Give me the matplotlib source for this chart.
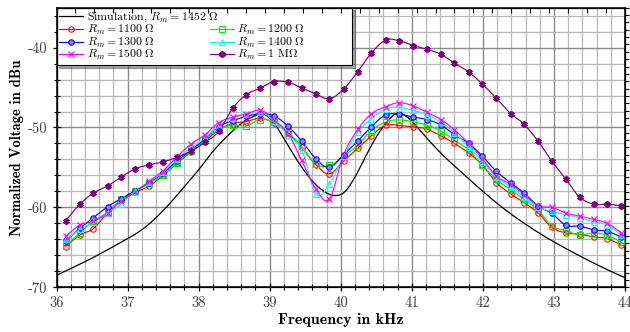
import numpy as np
import matplotlib
matplotlib.use("Agg")
import matplotlib.pyplot as plt
from matplotlib.lines import Line2D
from matplotlib.ticker import MultipleLocator, FixedLocator, NullFormatter

plt.rcParams.update({
    "font.family": "cmr10",
    "mathtext.fontset": "cm",
    "axes.unicode_minus": False,
})

# ---------------- data ----------------
freq = [36.13, 36.33, 36.52, 36.72, 36.91, 37.11, 37.30, 37.50, 37.69, 37.89,
        38.09, 38.28, 38.48, 38.67, 38.87, 39.06, 39.26, 39.45, 39.65, 39.84,
        40.04, 40.24, 40.43, 40.63, 40.82, 41.02, 41.21, 41.41, 41.60, 41.80,
        41.99, 42.19, 42.39, 42.58, 42.78, 42.97, 43.17, 43.36, 43.56, 43.75,
        43.95]

r1100 = [-64.9, -63.45, -62.65, -60.6, -59.1, -58.1, -57.35, -56.0, -54.5, -53.1,
         -51.7, -50.3, -49.5, -49.25, -48.85, -49.45, -50.7, -52.5, -54.65, -55.8,
         -54.2, -52.6, -51.05, -49.7, -49.75, -49.9, -50.2, -51.05, -52.0, -53.2,
         -54.7, -56.9, -58.3, -59.4, -60.7, -62.5, -63.2, -63.35, -63.7, -63.9,
         -64.75]
r1200 = [-64.8, -63.2, -61.7, -60.6, -59.0, -58.0, -57.0, -55.95, -54.4, -53.0,
         -51.5, -50.3, -49.7, -49.8, -49.0, -49.35, -50.6, -52.35, -54.55, -54.75,
         -53.6, -52.2, -50.4, -49.3, -49.05, -49.3, -49.7, -50.45, -51.6, -52.8,
         -54.7, -56.5, -57.8, -59.0, -60.35, -62.3, -62.9, -63.45, -63.2, -63.5,
         -64.35]
r1300 = [-64.2, -62.6, -61.3, -59.9, -58.9, -57.9, -56.9, -55.7, -54.2, -52.85,
         -51.4, -49.9, -49.15, -48.6, -48.3, -48.55, -49.85, -51.7, -53.9, -55.0,
         -53.4, -51.7, -49.9, -48.45, -48.35, -48.7, -49.0, -49.7, -50.9, -52.0,
         -53.55, -55.5, -56.9, -58.2, -59.85, -60.75, -62.25, -62.35, -62.8, -63.0,
         -63.7]
r1400 = [-64.0, -62.75, -61.85, -60.7, -59.6, -57.9, -56.8, -55.6, -53.9, -52.6,
         -51.3, -49.8, -48.8, -48.35, -48.1, -49.15, -51.0, -52.8, -58.3, -57.1,
         -53.6, -50.6, -48.9, -47.7, -47.5, -47.85, -48.4, -49.35, -50.65, -52.4,
         -54.2, -56.2, -57.4, -58.7, -59.95, -60.5, -60.9, -61.3, -61.8, -62.2,
         -63.45]
r1500 = [-63.6, -62.2, -61.75, -60.7, -59.2, -58.1, -56.75, -55.4, -53.7, -52.1,
         -50.9, -49.4, -48.7, -48.3, -47.85, -49.0, -50.8, -54.1, -57.7, -58.9,
         -53.4, -50.25, -48.3, -47.4, -46.9, -47.3, -48.1, -49.0, -50.3, -52.0,
         -53.9, -56.1, -57.1, -58.4, -59.8, -60.0, -60.7, -61.1, -61.5, -62.0,
         -63.2]
r1M = [-61.65, -59.6, -58.2, -57.3, -56.2, -55.15, -54.7, -54.3, -53.75, -52.95,
       -51.85, -50.5, -47.6, -45.9, -45.05, -44.25, -44.35, -45.05, -45.8, -46.4,
       -45.2, -43.0, -40.7, -39.05, -39.15, -39.75, -40.2, -40.85, -41.95, -43.05,
       -44.55, -46.35, -48.25, -49.6, -51.75, -54.2, -56.5, -58.7, -59.6, -59.6,
       -59.8]

sim_freq = [36.0, 36.4, 36.8, 37.2, 37.5, 37.8, 38.0, 38.2, 38.4, 38.6,
            38.75, 38.9, 39.05, 39.2, 39.4, 39.6, 39.75, 39.9, 40.05, 40.2,
            40.35, 40.5, 40.65, 40.8, 40.95, 41.1, 41.3, 41.5, 41.8, 42.0,
            42.3, 42.6, 42.9, 43.2, 43.5, 43.8, 44.0]
sim_vals = [-68.5, -66.8, -64.9, -62.8, -60.4, -57.4, -55.3, -53.0, -51.1, -49.5,
            -48.7, -48.3, -49.3, -51.4, -54.3, -56.7, -57.9, -58.5, -58.1, -56.2,
            -53.6, -51.2, -49.3, -48.2, -48.8, -50.2, -52.2, -54.0, -56.4, -58.0,
            -60.2, -62.1, -63.8, -65.3, -66.7, -68.0, -68.8]

labels = [r"$R_m = 1100\ \Omega$", r"$R_m = 1200\ \Omega$", r"$R_m = 1300\ \Omega$",
          r"$R_m = 1400\ \Omega$", r"$R_m = 1500\ \Omega$", r"$R_m = 1\ \mathrm{M}\Omega$"]
sim_label = r"Simulation, $R_m = 1452\ \Omega$"


def smooth(x, y, k=0.18, n=16):
    x = np.asarray(x, float)
    y = np.asarray(y, float)
    P = np.column_stack([x, y])
    Pp = np.vstack([P[0], P, P[-1]])
    t = np.linspace(0, 1, n, endpoint=False)[:, None]
    out = []
    for i in range(len(P) - 1):
        p0 = Pp[i + 1]
        p3 = Pp[i + 2]
        c1 = p0 + k * (Pp[i + 2] - Pp[i])
        c2 = p3 - k * (Pp[i + 3] - Pp[i + 1])
        seg = ((1 - t) ** 3) * p0 + 3 * ((1 - t) ** 2) * t * c1 + 3 * (1 - t) * t ** 2 * c2 + t ** 3 * p3
        out.append(seg)
    out.append(P[-1][None, :])
    out = np.vstack(out)
    return out[:, 0], out[:, 1]


fig = plt.figure(figsize=(6.30, 3.32), dpi=100)
ax = fig.add_axes([0.0897, 0.1346, 0.9024, 0.8424])

ax.set_xlim(36, 44)
ax.set_ylim(-70, -35)

# grid
ax.xaxis.set_major_locator(MultipleLocator(1))
ax.xaxis.set_minor_locator(MultipleLocator(0.2))
ax.yaxis.set_major_locator(FixedLocator([-70, -60, -50, -40]))
ax.yaxis.set_minor_locator(MultipleLocator(2))
ax.grid(which="minor", color="#b8b8b8", lw=0.9, zorder=0)
ax.grid(which="major", color="#8a8a8a", lw=1.0, zorder=0)
ax.set_axisbelow(True)

# simulation
sx, sy = smooth(sim_freq, sim_vals, k=0.17, n=20)
sim_line, = ax.plot(sx, sy, color="black", lw=0.9, zorder=3)

specs = [
    (r1100, "#ff0000", dict(marker="o", mfc="none", ms=3.9, mew=0.75)),
    (r1200, "#00ee00", dict(marker="s", mfc="none", ms=3.9, mew=0.75)),
    (r1300, "#0000ff", dict(marker="o", mfc="#8a8aff", ms=3.9, mew=0.8)),
    (r1400, "#00ffff", dict(marker="^", mfc="none", ms=3.9, mew=0.75)),
    (r1500, "#ff00ff", dict(marker="x", ms=3.9, mew=0.85)),
    (r1M, "#800080", dict(marker=(6, 2, 0), ms=4.6, mew=1.4)),
]
handles = []
for vals, col, mk in specs:
    xs, ys = smooth(freq, vals)
    ax.plot(xs, ys, color=col, lw=0.85, zorder=4)
    ax.plot(freq, vals, ls="none", color=col, mec=col, zorder=5, **mk)
    handles.append(Line2D([], [], color=col, lw=0.85, mec=col, **mk))

# ticks
ax.tick_params(which="both", direction="inout", colors="black", labelcolor="#404040",
               labelsize=10.5, top=False, right=False)
ax.tick_params(which="major", length=6, width=0.9)
ax.tick_params(which="minor", length=4, width=0.8)
for s in ax.spines.values():
    s.set_linewidth(1.1)

axt = ax.twiny()
axt.set_xlim(36, 44)
axt.xaxis.set_major_locator(FixedLocator(np.linspace(36, 44, 31)))
axt.xaxis.set_major_formatter(NullFormatter())
axt.tick_params(direction="in", length=3.5, width=0.8)
axr = ax.twinx()
axr.set_ylim(-70, -35)
axr.yaxis.set_major_locator(FixedLocator(np.linspace(-70, -35, 39)))
axr.yaxis.set_major_formatter(NullFormatter())
axr.tick_params(direction="out", length=3, width=0.8)

ax.set_xlabel("Frequency in kHz", fontfamily="cmb10", fontsize=11.5, labelpad=2)
ax.set_ylabel("Normalized Voltage in dBu", fontfamily="cmb10", fontsize=10.5, labelpad=3)

# legend: main box (blank first row) + simulation entry on top
blank1 = Line2D([], [], color="none")
blank2 = Line2D([], [], color="none")
leg_handles = [blank1, handles[0], handles[2], handles[4], blank2, handles[1], handles[3], handles[5]]
leg_labels = [labels[0], labels[0], labels[2], labels[4],
              labels[3] + "MMMM", labels[1], labels[3], labels[5]]
lkw = dict(loc="upper left", bbox_to_anchor=(0, 1), borderaxespad=0, fontsize=8.6,
           handlelength=2.0, handletextpad=0.3, borderpad=0.25)
legA = ax.legend(leg_handles, leg_labels, ncol=2, frameon=True, fancybox=False,
                 edgecolor="black", framealpha=1, labelspacing=-0.12, columnspacing=4.6,
                 shadow=True, **lkw)
legA.get_frame().set_linewidth(0.8)
legA.get_texts()[0].set_alpha(0)
legA.get_texts()[4].set_alpha(0)
legA.set_zorder(10)
ax.add_artist(legA)
legB = ax.legend([sim_line], [sim_label], frameon=False, **lkw)
legB.set_zorder(11)

fig.savefig("out.png", dpi=100)
